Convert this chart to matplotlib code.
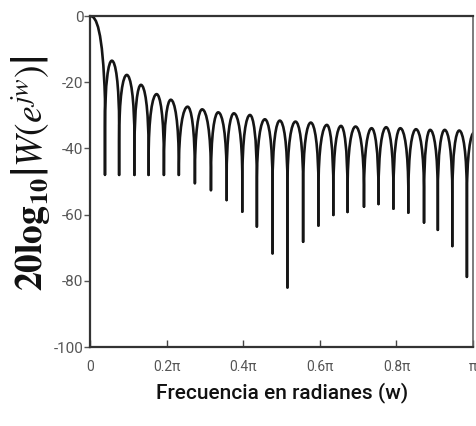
import matplotlib
matplotlib.use('Agg')
import matplotlib.pyplot as plt
from matplotlib.path import Path
from matplotlib.patches import PathPatch

# frecuencias en fracciones de pi, magnitudes en dB
null_x = [0.038, 0.075, 0.115, 0.152, 0.192, 0.231, 0.273, 0.315, 0.356, 0.397,
          0.435, 0.476, 0.515, 0.556, 0.596, 0.635, 0.672, 0.715, 0.753, 0.792,
          0.831, 0.872, 0.908, 0.946, 0.984, 1.023]
null_db = [-48, -48, -48, -48, -48, -48, -50.5, -52.6, -55.6, -59.1,
           -63.6, -71.7, -82, -68.2, -63.3, -60.1, -59.2, -57.6, -56.8, -58.2,
           -59.4, -62.4, -64.6, -69.5, -78.8, -80]
peak_x = [0.056, 0.095, 0.132, 0.173, 0.210, 0.254, 0.292, 0.334, 0.375, 0.417,
          0.456, 0.495, 0.536, 0.576, 0.618, 0.655, 0.693, 0.735, 0.773, 0.810,
          0.851, 0.888, 0.926, 0.964, 1.003]
peak_db = [-13.5, -17.8, -20.8, -23.6, -25.3, -27.4, -28.2, -29.1, -29.4, -29.9,
           -31.2, -31.6, -31.9, -32.2, -32.9, -33.2, -33.4, -33.9, -33.6, -33.9,
           -34.2, -34.4, -34.4, -34.6, -35.2]

x_ticks = [0, 0.2, 0.4, 0.6, 0.8, 1.0]
x_labels = ['0', '0.2π', '0.4π', '0.6π', '0.8π', 'π']
y_ticks = [0, -20, -40, -60, -80, -100]
y_labels = ['0', '-20', '-40', '-60', '-80', '-100']

plt.rcParams['font.family'] = ['Roboto', 'DejaVu Sans']
plt.rcParams['mathtext.fontset'] = 'stix'

fig = plt.figure(figsize=(4.76, 4.26), dpi=100)
ax = fig.add_axes([0.190, 0.1854, 0.8037, 0.777])

LINE = '#151515'
D = 20  # caida de cada lobulo antes del pico de anulacion

# lobulo principal
xn = null_x[0]
verts = [(0, 0), (0.4 * xn, 0), (0.85 * xn, -4), (xn, -25), (xn, null_db[0])]
codes = [Path.MOVETO, Path.CURVE4, Path.CURVE4, Path.CURVE4, Path.LINETO]
ax.add_patch(PathPatch(Path(verts, codes), fill=False, edgecolor=LINE, lw=1.9))

# lobulos laterales
for k in range(len(peak_x)):
    x0, x1 = null_x[k], null_x[k + 1]
    xp, yp = peak_x[k], peak_db[k]
    yb0 = max(yp - D, null_db[k] + 1)
    yb1 = max(yp - D, null_db[k + 1] + 1)
    verts = [(x0, null_db[k]), (x0, yb0),
             (x0, yp - (yp - yb0) / 3), (x0 + (xp - x0) / 2, yp), (xp, yp),
             (xp + (x1 - xp) / 2, yp), (x1, yp - (yp - yb1) / 3), (x1, yb1),
             (x1, null_db[k + 1])]
    codes = [Path.MOVETO, Path.LINETO,
             Path.CURVE4, Path.CURVE4, Path.CURVE4,
             Path.CURVE4, Path.CURVE4, Path.CURVE4,
             Path.LINETO]
    ax.add_patch(PathPatch(Path(verts, codes), fill=False, edgecolor=LINE,
                           lw=1.9, joinstyle='round', capstyle='round'))

ax.set_xlim(0, 1)
ax.set_ylim(-100, 0)
ax.set_xticks(x_ticks)
ax.set_xticklabels(x_labels)
ax.set_yticks(y_ticks)
ax.set_yticklabels(y_labels)
ax.tick_params(axis='x', direction='in', length=5, width=1, pad=9,
               labelsize=10, labelcolor='#555555', color='#444444')
ax.tick_params(axis='y', direction='out', length=4, width=1, pad=1,
               labelsize=11, labelcolor='#555555', color='#555555')
for side in ['top', 'bottom', 'left']:
    ax.spines[side].set_linewidth(1.6)
    ax.spines[side].set_color('#333333')
ax.spines['right'].set_linewidth(1.2)
ax.spines['right'].set_color('#666666')

ax.set_xlabel('Frecuencia en radianes (w)', fontsize=15, fontweight='medium',
              color='#111111', labelpad=6)
fig.text(0.068, 0.594, r'$\mathbf{20log_{10}}\left|W\left(e^{jw}\right)\right|$',
         rotation=90, fontsize=27, color='#111111', ha='center', va='center')

fig.savefig('out.png', dpi=100)
